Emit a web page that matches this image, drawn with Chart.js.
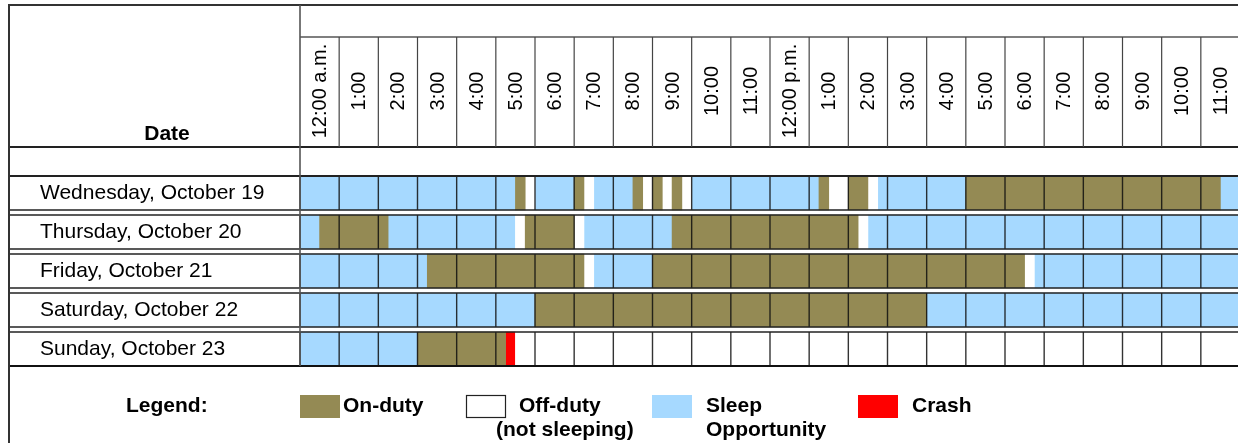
<!DOCTYPE html>
<html>
<head>
<meta charset="utf-8">
<script src="https://cdn.jsdelivr.net/npm/chart.js@4.4.1/dist/chart.umd.min.js"></script>
<style>
html,body{margin:0;padding:0;overflow:hidden;background:#fff;width:1238px;height:443px}
#wrap{position:relative;width:1250px;height:443px}
canvas{display:block}
</style>
</head>
<body>
<div id="wrap"><canvas id="c" width="1250" height="443"></canvas></div>
<script>
// ---------- data ----------
const days = ['Wednesday, October 19','Thursday, October 20','Friday, October 21','Saturday, October 22','Sunday, October 23'];
const hourLabels = ['12:00 a.m.','1:00','2:00','3:00','4:00','5:00','6:00','7:00','8:00','9:00','10:00','11:00',
                    '12:00 p.m.','1:00','2:00','3:00','4:00','5:00','6:00','7:00','8:00','9:00','10:00','11:00'];
const statusKeys = ['D','O','S','C'];
const statusNames = ['On-duty','Off-duty (not sleeping)','Sleep Opportunity','Crash'];
const legendLines = [['On-duty'],['Off-duty','(not sleeping)'],['Sleep','Opportunity'],['Crash']];
const statusColors = ['#948A54','#FFFFFF','#A6D9FF','#FF0000'];

// segments per day: [start hour, end hour, status]  (D on-duty, O off-duty, S sleep opportunity, C crash)
const wednesday = [[0,5.5,'S'],[5.5,5.75,'D'],[5.75,6,'O'],[6,7,'S'],[7,7.25,'D'],[7.25,7.5,'O'],[7.5,8.5,'S'],
  [8.5,8.75,'D'],[8.75,9,'O'],[9,9.25,'D'],[9.25,9.5,'O'],[9.5,9.75,'D'],[9.75,10,'O'],[10,13.25,'S'],
  [13.25,13.5,'D'],[13.5,14,'O'],[14,14.5,'D'],[14.5,14.75,'O'],[14.75,17,'S'],[17,23.5,'D'],[23.5,24,'S']];
const thursday = [[0,0.5,'S'],[0.5,2.25,'D'],[2.25,5.5,'S'],[5.5,5.75,'O'],[5.75,7,'D'],[7,7.25,'O'],
  [7.25,9.5,'S'],[9.5,14.25,'D'],[14.25,14.5,'O'],[14.5,24,'S']];
const friday = [[0,3.25,'S'],[3.25,7.25,'D'],[7.25,7.5,'O'],[7.5,9,'S'],[9,18.5,'D'],[18.5,18.75,'O'],[18.75,24,'S']];
const saturday = [[0,6,'S'],[6,16,'D'],[16,24,'S']];
const sunday = [[0,3,'S'],[3,5.25,'D'],[5.25,5.5,'C'],[5.5,24,'O']];
const schedule = [wednesday, thursday, friday, saturday, sunday];

// ---------- build datasets ----------
const datasets = statusKeys.map((k, si) => ({
  label: statusNames[si],
  backgroundColor: statusColors[si],
  borderWidth: 0,
  grouped: false,
  barThickness: 34,
  data: schedule.flatMap((segs, di) => segs.filter(s => s[2] === k).map(s => ({x: [s[0], s[1]], y: days[di]})))
}));

const FONT = '"Liberation Sans", Arial, sans-serif';
const FRAME_LEFT = 9, FRAME_TOP = 5, HEAD_LINE = 37, HEAD_BOTTOM = 147;
const ROW_HALF = 17;

function line(ctx, x1, y1, x2, y2) { ctx.beginPath(); ctx.moveTo(x1, y1); ctx.lineTo(x2, y2); ctx.stroke(); }

const tablePlugin = {
  id: 'table',
  beforeDraw(chart) {
    const ctx = chart.ctx;
    ctx.save(); ctx.fillStyle = '#fff'; ctx.fillRect(0, 0, chart.width, chart.height); ctx.restore();
  },
  afterDatasetsDraw(chart) {
    const ctx = chart.ctx, xs = chart.scales.x, ys = chart.scales.y, W = chart.width;
    const gridLeft = xs.getPixelForValue(0);
    ctx.save();
    // cell grid
    days.forEach((d, i) => {
      const yc = ys.getPixelForValue(i);
      const t = yc - ROW_HALF, b = yc + ROW_HALF;
      ctx.strokeStyle = 'rgba(15,15,15,0.85)'; ctx.lineWidth = 1.4;
      for (let h = 0; h <= 24; h++) { const x = xs.getPixelForValue(h); line(ctx, x, t, x, b); }
      ctx.strokeStyle = '#222'; ctx.lineWidth = 1.5;
      line(ctx, FRAME_LEFT, t, W, t);
      line(ctx, FRAME_LEFT, b, W, b);
    });
    const lastBottom = ys.getPixelForValue(days.length - 1) + ROW_HALF;
    const firstTop = ys.getPixelForValue(0) - ROW_HALF;
    // bottom of table
    ctx.strokeStyle = '#111'; ctx.lineWidth = 2.2;
    line(ctx, FRAME_LEFT, lastBottom, W, lastBottom);
    // header
    ctx.strokeStyle = '#333'; ctx.lineWidth = 2;
    line(ctx, FRAME_LEFT - 1, FRAME_TOP, W, FRAME_TOP);
    ctx.strokeStyle = '#555'; ctx.lineWidth = 1.5;
    line(ctx, gridLeft, HEAD_LINE, W, HEAD_LINE);
    ctx.strokeStyle = '#222'; ctx.lineWidth = 2;
    line(ctx, FRAME_LEFT, HEAD_BOTTOM, W, HEAD_BOTTOM);
    line(ctx, FRAME_LEFT, firstTop, W, firstTop);
    ctx.strokeStyle = '#444'; ctx.lineWidth = 1.2;
    for (let h = 1; h <= 24; h++) { const x = xs.getPixelForValue(h); line(ctx, x, HEAD_LINE, x, HEAD_BOTTOM); }
    // grid left edge and outer left border
    ctx.strokeStyle = '#555'; ctx.lineWidth = 1.6;
    line(ctx, gridLeft, FRAME_TOP, gridLeft, lastBottom);
    ctx.strokeStyle = '#333'; ctx.lineWidth = 2;
    line(ctx, FRAME_LEFT, FRAME_TOP, FRAME_LEFT, chart.height);

    // hour labels
    ctx.fillStyle = '#000';
    ctx.font = '20px ' + FONT;
    ctx.textAlign = 'center'; ctx.textBaseline = 'middle';
    hourLabels.forEach((lab, h) => {
      const xc = xs.getPixelForValue(h + 0.5);
      ctx.save(); ctx.translate(xc + 1, (HEAD_LINE + HEAD_BOTTOM) / 2 - 1); ctx.rotate(-Math.PI / 2);
      ctx.fillText(lab, 0, 0); ctx.restore();
    });
    // "Date"
    ctx.font = 'bold 21px ' + FONT;
    ctx.textAlign = 'center'; ctx.textBaseline = 'alphabetic';
    ctx.fillText('Date', 167, 140);

    // legend
    const legY = 395, boxW = 40, boxH = 23;
    ctx.textBaseline = 'middle'; ctx.textAlign = 'left';
    ctx.fillText('Legend:', 126, 406);
    const boxX = [300, 466, 652, 858];
    const textX = [[343], [519, 496], [706, 706], [912]];
    legendLines.forEach((lines, i) => {
      ctx.fillStyle = statusColors[i];
      ctx.fillRect(boxX[i], legY, boxW, boxH);
      if (i === 1) { ctx.strokeStyle = '#222'; ctx.lineWidth = 1.2; ctx.strokeRect(boxX[i] + 0.5, legY + 0.5, boxW - 1, boxH - 1); }
      ctx.fillStyle = '#000';
      lines.forEach((t, j) => ctx.fillText(t, textX[i][j], 406 + j * 24));
    });
    ctx.restore();
  }
};

new Chart(document.getElementById('c'), {
  type: 'bar',
  data: { labels: days, datasets },
  options: {
    indexAxis: 'y',
    responsive: false,
    animation: false,
    devicePixelRatio: 1,
    layout: { padding: { left: 40, right: 10, top: 173.5, bottom: 74.5 } },
    scales: {
      x: { type: 'linear', min: 0, max: 24, display: false },
      y: {
        type: 'category',
        labels: days,
        grid: { display: false },
        border: { display: false },
        ticks: { crossAlign: 'far', autoSkip: false, padding: 0, color: '#000', font: { family: FONT, size: 21 } },
        afterFit(scale) { scale.width = 260; }
      }
    },
    plugins: { legend: { display: false }, tooltip: { enabled: false } }
  },
  plugins: [tablePlugin]
});
</script>
</body>
</html>
